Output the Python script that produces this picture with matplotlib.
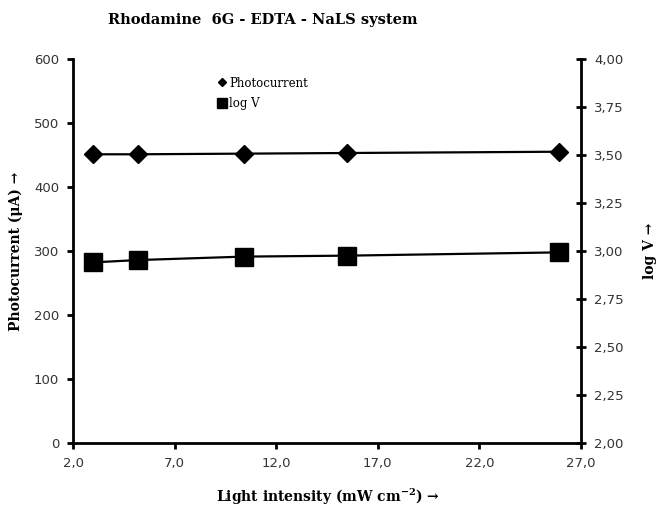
import matplotlib
matplotlib.use("Agg")
import matplotlib.pyplot as plt
from matplotlib.ticker import FuncFormatter, NullLocator
from matplotlib.lines import Line2D

plt.rcParams["mathtext.fontset"] = "dejavuserif"

intensity = [3.0, 5.2, 10.4, 15.5, 25.9]
photocurrent = [451, 451, 452, 453, 455]
log_v = [2.940, 2.952, 2.970, 2.975, 2.992]

x_ticks = [2.0, 7.0, 12.0, 17.0, 22.0, 27.0]
left_ticks = [0, 100, 200, 300, 400, 500, 600]
right_ticks = [2.00, 2.25, 2.50, 2.75, 3.00, 3.25, 3.50, 3.75, 4.00]

serif = ["DejaVu Serif"]
tick_color = "#333333"

fig = plt.figure(figsize=(6.6, 5.08), dpi=100)
rect = [73/660, 1-442.7/508, (581-73)/660, (442.7-59)/508]
ax = fig.add_axes(rect)
ax2 = fig.add_axes(rect, sharex=ax)
ax2.patch.set_visible(False)

ax.plot(intensity, photocurrent, color="black", lw=1.6, marker="D", ms=9.5, mfc="black", mec="black")
ax2.plot(intensity, log_v, color="black", lw=1.6, marker="s", ms=13, mfc="black", mec="black")

ax.set_xlim(2.0, 27.0)
ax.set_ylim(0, 600)
ax2.set_ylim(2.0, 4.0)
ax.set_xticks(x_ticks)
ax.set_yticks(left_ticks)
ax2.set_yticks(right_ticks)
for a in (ax, ax2):
    a.xaxis.set_minor_locator(NullLocator())
    a.yaxis.set_minor_locator(NullLocator())
ax.xaxis.set_major_formatter(FuncFormatter(lambda v, p: f"{v:.1f}".replace(".", ",")))
ax2.yaxis.set_major_formatter(FuncFormatter(lambda v, p: f"{v:.2f}".replace(".", ",")))

ax.yaxis.set_ticks_position("left")
ax.xaxis.set_ticks_position("bottom")
ax2.yaxis.set_ticks_position("right")
ax2.yaxis.set_label_position("right")
ax2.xaxis.set_visible(False)

for a in (ax, ax2):
    for s in a.spines.values():
        s.set_visible(False)
ax.spines["left"].set_visible(True)
ax.spines["bottom"].set_visible(True)
ax2.spines["right"].set_visible(True)
for s in ("left", "bottom"):
    ax.spines[s].set_linewidth(2.0)
ax2.spines["right"].set_linewidth(2.0)

ax.tick_params(axis="both", direction="out", length=4, width=2, labelsize=9.5, labelcolor=tick_color, pad=6)
ax2.tick_params(axis="y", direction="inout", length=7, width=2, labelsize=9.5, labelcolor=tick_color, pad=6)

fig.text(328/660, 1-497/508, r"Light intensity (mW cm$^{\mathbf{-2}}$) →", ha="center", va="center",
         family=serif, fontweight="bold", fontsize=10)
ax.set_ylabel("Photocurrent (μA) →", family=serif, fontweight="bold", fontsize=10, labelpad=8)
ax2.set_ylabel("log V →", family=serif, fontweight="bold", fontsize=10, labelpad=14, rotation=90)

fig.text(263/660, 1-20/508, "Rhodamine  6G - EDTA - NaLS system", ha="center", va="center",
         family=serif, fontweight="bold", fontsize=10.5)

handles = [Line2D([], [], ls="none", marker="D", ms=4.5, color="black"),
           Line2D([], [], ls="none", marker="s", ms=6.5, color="black")]
fig.legend(handles, ["Photocurrent", "log V"], loc="upper left", bbox_to_anchor=(208/660, 1-66/508),
           frameon=False, handlelength=0.6, handletextpad=0.3, labelspacing=0.6,
           prop={"family": serif, "size": 8.5})

fig.savefig("out.png", dpi=100)
